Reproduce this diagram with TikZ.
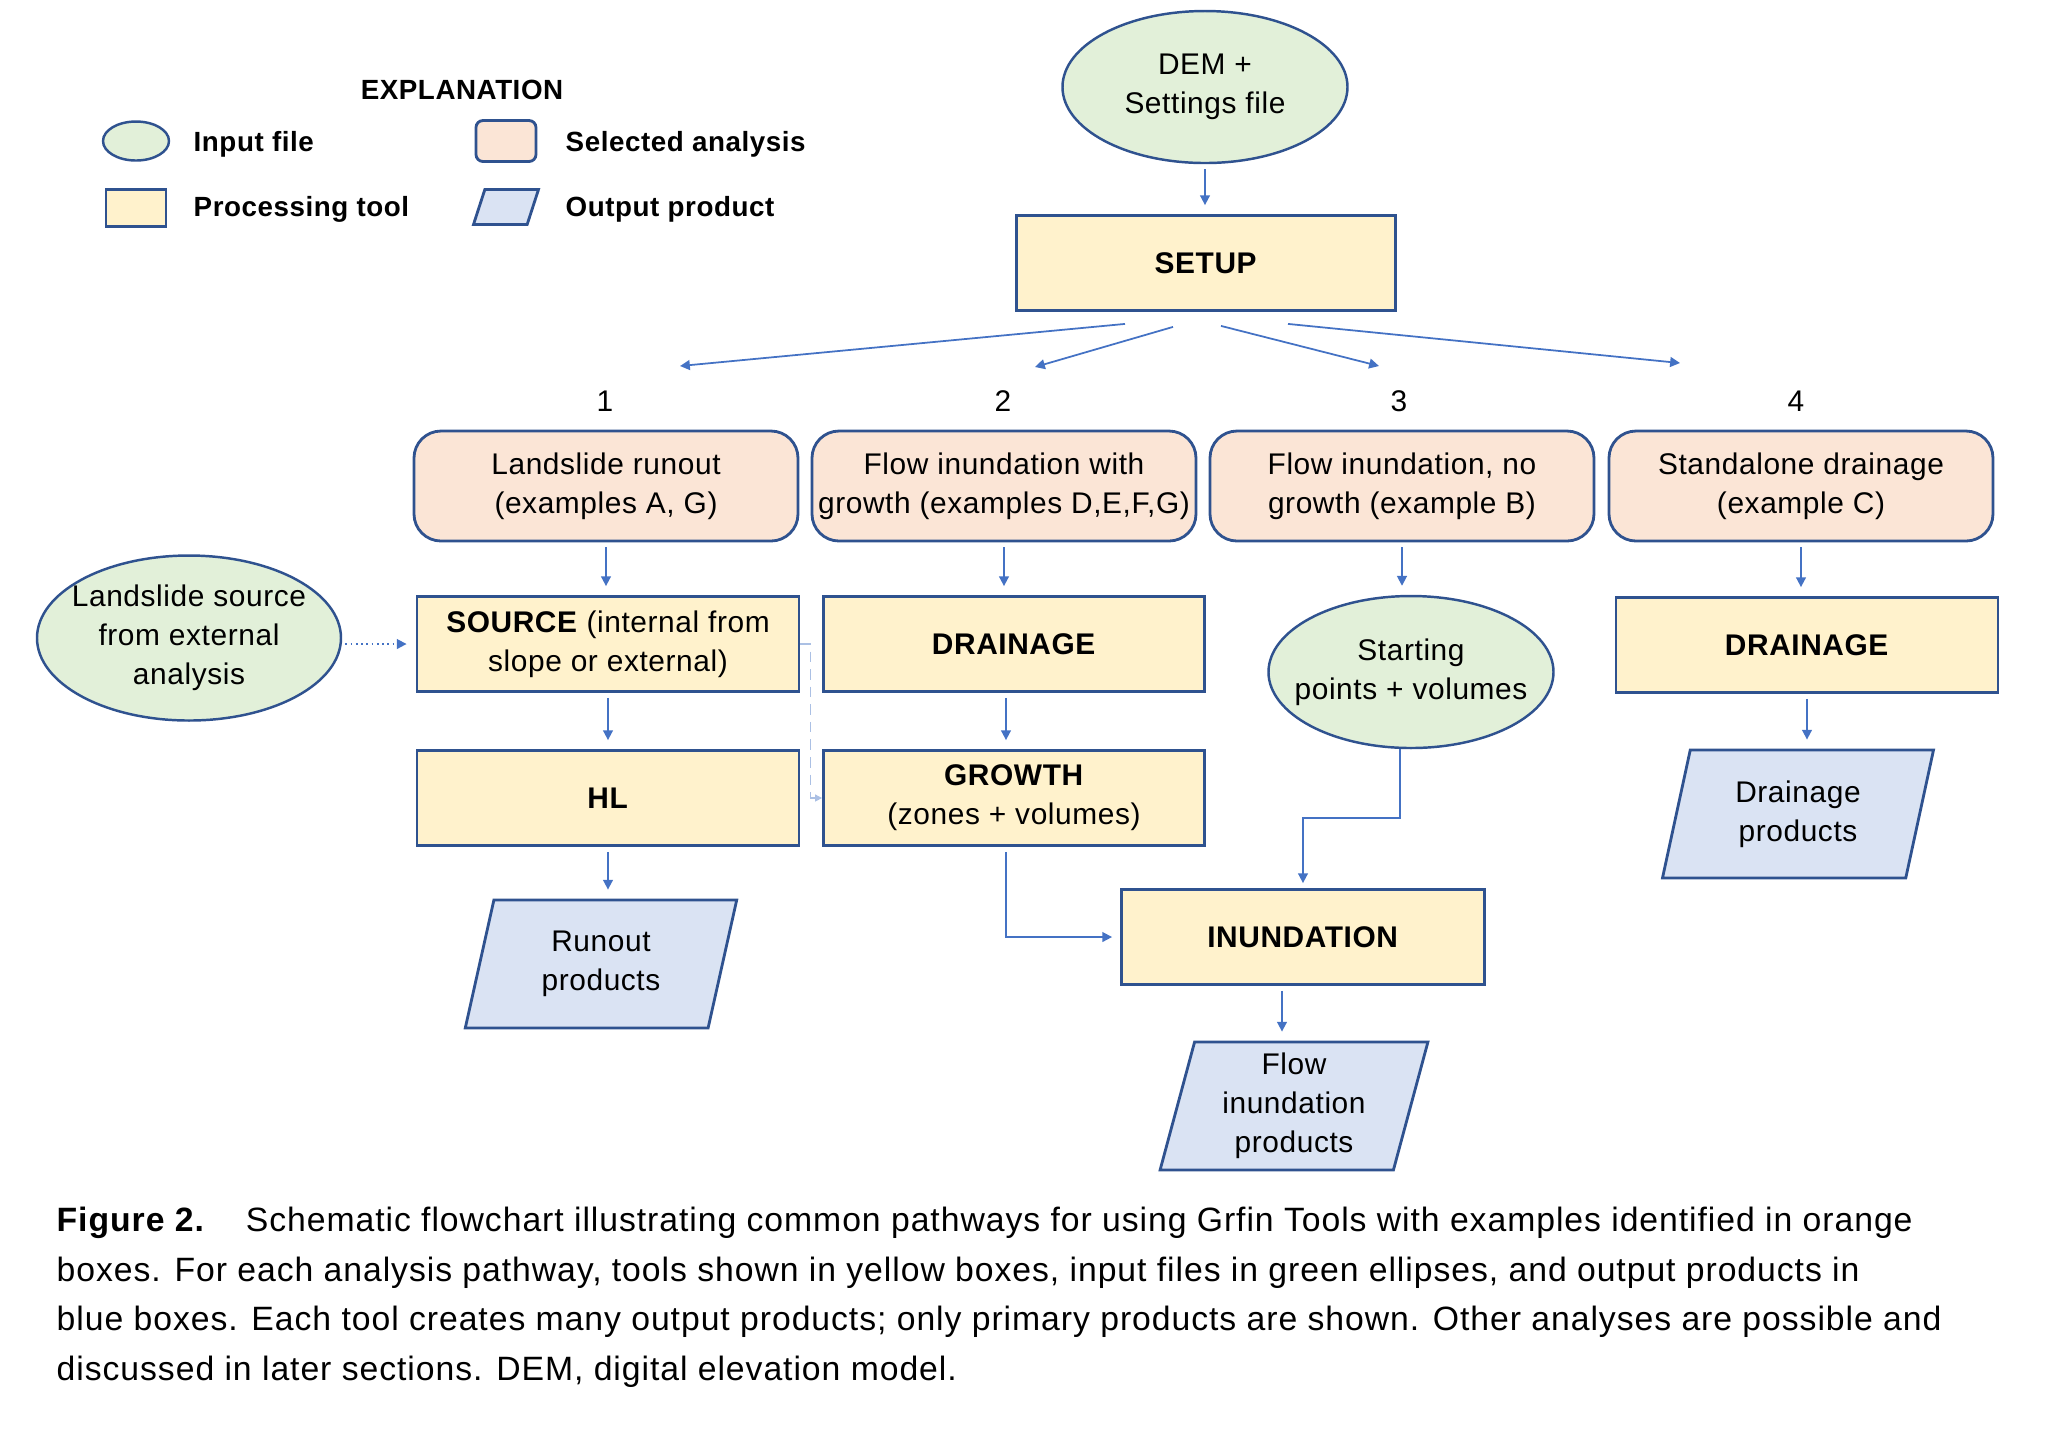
\documentclass[tikz,border=0pt]{standalone}
\usepackage{fontspec}
\setmainfont{Liberation Sans}[LetterSpace=2]
\newfontfamily\captionfont{Liberation Sans}[LetterSpace=2.8]
\usetikzlibrary{shapes.geometric,arrows.meta}
\definecolor{inputgreen}{RGB}{226,240,217}
\definecolor{analysisorange}{RGB}{251,229,214}
\definecolor{toolyellow}{RGB}{255,242,204}
\definecolor{productblue}{RGB}{218,227,243}
\definecolor{edgeblue}{RGB}{47,82,143}
\definecolor{arrowblue}{RGB}{68,114,196}

\begin{document}
\begin{tikzpicture}[
    every node/.style={font=\fontsize{8.5}{11.1}\selectfont, align=center, inner sep=0pt},
    inputfile/.style={ellipse, draw=edgeblue, fill=inputgreen, line width=0.7pt},
    analysis/.style={rectangle, rounded corners=0.27cm, draw=edgeblue, fill=analysisorange, line width=0.8pt, minimum width=3.84cm, minimum height=1.10cm},
    tool/.style={rectangle, draw=edgeblue, fill=toolyellow, line width=0.8pt, minimum width=3.82cm, minimum height=0.95cm},
    product/.style={trapezium, trapezium left angle=77, trapezium right angle=103, trapezium stretches=true, draw=edgeblue, fill=productblue, line width=0.8pt, minimum width=2.71cm, minimum height=1.28cm, inner sep=1pt},
    legtext/.style={anchor=base west, font=\fontsize{7.9}{10}\selectfont\bfseries},
    arr/.style={-{Triangle[length=2.8pt,width=2.8pt]}, draw=arrowblue, line width=0.5pt, shorten <=0.05cm, shorten >=0.09cm},
  ]
    \useasboundingbox (0,0) rectangle (20.54,-14.39);

    % explanation
    \node[font=\fontsize{7.9}{10}\selectfont\bfseries, anchor=base] (explan) at (4.62,-0.99) {EXPLANATION};
    \node[inputfile, minimum width=0.66cm, minimum height=0.39cm] (leginput) at (1.36,-1.41) {};
    \node[legtext] (leginputtxt) at (1.93,-1.51) {Input file};
    \node[analysis, rounded corners=0.07cm, minimum width=0.60cm, minimum height=0.41cm] (legan) at (5.06,-1.41) {};
    \node[legtext] (legantxt) at (5.65,-1.51) {Selected analysis};
    \node[tool, minimum width=0.60cm, minimum height=0.37cm] (legtool) at (1.36,-2.08) {};
    \node[legtext] (legtooltxt) at (1.93,-2.16) {Processing tool};
    \node[product, minimum width=0.65cm, minimum height=0.35cm, trapezium left angle=75, trapezium right angle=105] (legprod) at (5.06,-2.07) {};
    \node[legtext] (legprodtxt) at (5.65,-2.16) {Output product};

    % top
    \node[inputfile, minimum width=2.85cm, minimum height=1.52cm, inner xsep=-0.05cm] (dem) at (12.05,-0.87) {DEM +\\Settings file};
    \node[tool, minimum width=3.79cm] (setup) at (12.06,-2.63) {\textbf{SETUP}};
    \draw[arr] (dem.south) -- (dem.south |- setup.north);

    \coordinate (to1) at (6.80,-3.66);
    \coordinate (to2) at (10.35,-3.67);
    \coordinate (to3) at (13.79,-3.66);
    \coordinate (to4) at (16.80,-3.63);
    \draw[arr, shorten <=0pt, shorten >=0pt] ([xshift=-0.81cm,yshift=-0.12cm]setup.south) -- (to1);
    \draw[arr, shorten <=0pt, shorten >=0pt] ([xshift=-0.33cm,yshift=-0.15cm]setup.south) -- (to2);
    \draw[arr, shorten <=0pt, shorten >=0pt] ([xshift=0.15cm,yshift=-0.14cm]setup.south) -- (to3);
    \draw[arr, shorten <=0pt, shorten >=0pt] ([xshift=0.82cm,yshift=-0.12cm]setup.south) -- (to4);

    % pathways
    \node (num1) at (6.05,-4.01) {1};
    \node (num2) at (10.03,-4.01) {2};
    \node (num3) at (13.99,-4.01) {3};
    \node (num4) at (17.96,-4.01) {4};

    \node[analysis] (an1) at (6.06,-4.86) {Landslide runout\\(examples A, G)};
    \node[analysis] (an2) at (10.04,-4.86) {Flow inundation with\\growth (examples D,E,F,G)};
    \node[analysis] (an3) at (14.02,-4.86) {Flow inundation, no\\growth (example B)};
    \node[analysis] (an4) at (18.01,-4.86) {Standalone drainage\\(example C)};

    \node[tool] (source) at (6.08,-6.44) {\textbf{SOURCE} (internal from\\slope or external)};
    \node[tool] (hl) at (6.08,-7.98) {\textbf{HL}};
    \node[tool, minimum width=3.81cm] (drain2) at (10.14,-6.44) {\textbf{DRAINAGE}};
    \node[tool, minimum width=3.81cm] (growth) at (10.14,-7.98) {\textbf{GROWTH}\\(zones + volumes)};
    \node[inputfile, minimum width=2.85cm, minimum height=1.52cm, inner xsep=-0.16cm] (start) at (14.11,-6.72) {Starting\\points + volumes};
    \node[tool] (drain4) at (18.07,-6.45) {\textbf{DRAINAGE}};
    \node[inputfile, minimum width=3.04cm, minimum height=1.65cm, inner xsep=-0.12cm] (lsource) at (1.89,-6.38) {Landslide source\\from external\\analysis};

    \node[tool, minimum width=3.63cm] (inund) at (13.03,-9.37) {\textbf{INUNDATION}};
    \node[product, minimum width=2.72cm] (runout) at (6.01,-9.64) {Runout\\products};
    \node[product, minimum width=2.69cm] (flowprod) at (12.94,-11.06) {Flow\\inundation\\products};
    \node[product] (drainprod) at (17.98,-8.14) {Drainage\\products};

    \draw[arr] (an1.south) -- (an1.south |- source.north);
    \draw[arr] (an2.south) -- (an2.south |- drain2.north);
    \draw[arr] (an3.south) -- (an3.south |- start.north);
    \draw[arr] (an4.south) -- (an4.south |- drain4.north);
    \draw[arr] (source.south) -- (source.south |- hl.north);
    \draw[arr] ([xshift=-0.08cm]drain2.south) -- ([xshift=-0.08cm]drain2.south |- growth.north);
    \draw[arr] (hl.south) -- (hl.south |- runout.north);
    \draw[arr] (drain4.south) -- (drain4.south |- drainprod.north);
    \draw[arr, shorten >=0.08cm] ([xshift=-0.08cm]growth.south) |- (inund.west);
    \draw[arr, shorten <=0pt, shorten >=0.05cm] ([xshift=-0.11cm]start.south) -- ++(0,-0.69) -| (inund.north);
    \draw[arr] ([xshift=-0.21cm]inund.south) -- ([xshift=-0.21cm]inund.south |- flowprod.north);
    \draw[arr, densely dotted, shorten <=0.03cm] (lsource.east |- source.west) -- (source.west);
    \draw[-{Triangle[length=2pt,width=2pt]}, densely dashed, draw=arrowblue!45, line width=0.3pt] (source.east) -- ++(0.10,0) |- (growth.west);

    % caption
    \node[anchor=north west, align=left, font=\captionfont\fontsize{9.6}{14.2}\selectfont] (caption) at (0.56,-12.06)
      {\textbf{Figure 2.}\hspace{0.41cm}Schematic flowchart illustrating common pathways for using Grfin Tools with examples identified in orange\\
       boxes. For each analysis pathway, tools shown in yellow boxes, input files in green ellipses, and output products in\\
       blue boxes. Each tool creates many output products; only primary products are shown. Other analyses are possible and\\
       discussed in later sections. DEM, digital elevation model.};
\end{tikzpicture}
\end{document}
